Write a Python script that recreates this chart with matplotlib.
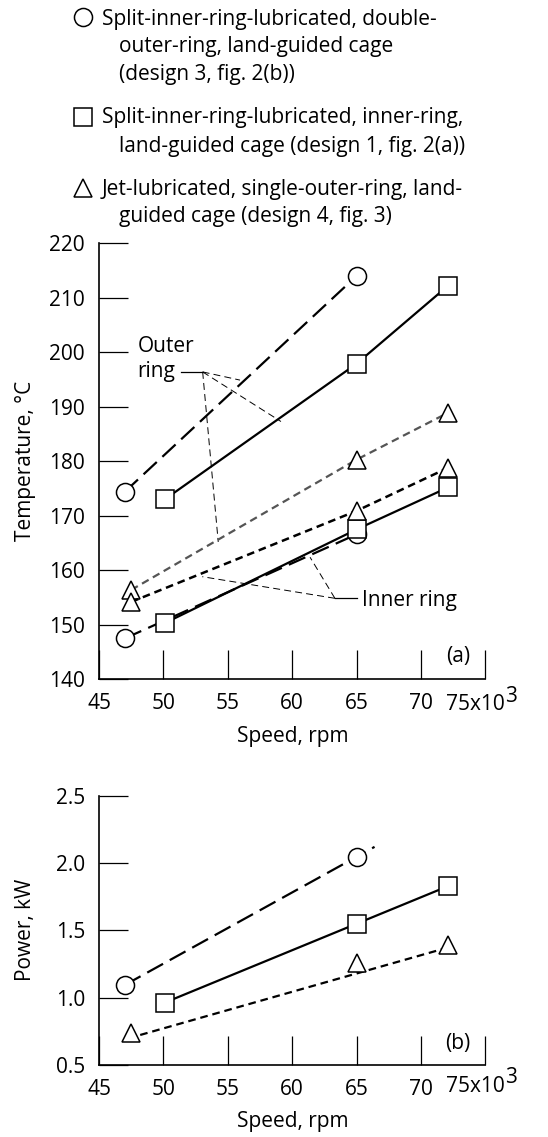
import matplotlib
matplotlib.use('Agg')
import matplotlib.pyplot as plt

plt.rcParams['font.family'] = ['Open Sans', 'DejaVu Sans']
plt.rcParams['lines.scale_dashes'] = False

# ---------------- data ----------------
speed_ticks = [45, 50, 55, 60, 65, 70, 75]
speed_labels = ['45', '50', '55', '60', '65', '70', '']
temp_ticks = [140, 150, 160, 170, 180, 190, 200, 210, 220]
power_ticks = [0.5, 1.0, 1.5, 2.0, 2.5]
power_labels = ['0.5', '1.0', '1.5', '2.0', '2.5']

# (a) temperatures, deg C
circ_speed = [47.0, 65.0]
circ_outer = [174.4, 214.0]
circ_inner = [147.5, 166.6]
sq_speed = [50.1, 65.0, 72.1]
sq_outer = [173.0, 197.9, 212.2]
sq_inner = [150.3, 167.5, 175.2]
tri_speed = [47.5, 65.0, 72.1]
tri_outer = [156.4, 180.3, 188.9]
tri_inner = [154.2, 170.9, 178.8]

# (b) power, kW
circ_power = [1.094, 2.045]
sq_power = [0.963, 1.549, 1.828]
tri_power = [0.741, 1.256, 1.394]
circ_fit_speed = [47.0, 66.4]
circ_fit_power = [1.094, 2.12]
tri_fit_speed = [48.2, 71.9]
tri_fit_power = [0.723, 1.367]

legend_texts = [
    ["Split-inner-ring-lubricated, double-", "outer-ring, land-guided cage", "(design 3, fig. 2(b))"],
    ["Split-inner-ring-lubricated, inner-ring,", "land-guided cage (design 1, fig. 2(a))"],
    ["Jet-lubricated, single-outer-ring, land-", "guided cage (design 4, fig. 3)"],
]

# ---------------- styles ----------------
W, H = 548, 1137
FS = 15
LONG = (0, (13, 5.5))
SHORT = (0, (5.5, 3.5))
mk = dict(markerfacecolor='white', markeredgecolor='black', markeredgewidth=1.1)

fig = plt.figure(figsize=(W / 100, H / 100), dpi=100)

def px_axes(l, r, t, b):
    return [l / W, 1 - b / H, (r - l) / W, (b - t) / H]

axA = fig.add_axes(px_axes(99, 485.3, 243.3, 679.3))
axB = fig.add_axes(px_axes(99, 485.3, 795.7, 1065))

for ax in (axA, axB):
    for s in ('top', 'right'):
        ax.spines[s].set_visible(False)
    for s in ('left', 'bottom'):
        ax.spines[s].set_linewidth(1.2)
    ax.set_xlim(45, 75)
    ax.set_xticks(speed_ticks)
    ax.set_xticklabels(speed_labels)
    ax.tick_params(axis='x', direction='in', length=21, width=0.9, pad=10, labelsize=FS)
    ax.tick_params(axis='y', direction='in', length=21, width=0.9, pad=10, labelsize=FS)

# ---- (a) ----
axA.set_ylim(140, 220)
axA.set_yticks(temp_ticks)
axA.plot(circ_speed, circ_outer, color='black', lw=1.6, linestyle=LONG, marker='o', ms=13, **mk, zorder=3)
axA.plot(circ_speed, circ_inner, color='black', lw=1.6, linestyle=LONG, marker='o', ms=13, **mk, zorder=3)
axA.plot(sq_speed, sq_outer, color='black', lw=1.6, linestyle='-', marker='s', ms=12.5, **mk, zorder=3)
axA.plot(sq_speed, sq_inner, color='black', lw=1.6, linestyle='-', marker='s', ms=12.5, **mk, zorder=3)
axA.plot(tri_speed, tri_outer, color='#555555', lw=1.6, linestyle=SHORT, marker='^', ms=13, **mk, zorder=3)
axA.plot(tri_speed, tri_inner, color='black', lw=1.8, linestyle=SHORT, marker='^', ms=13, **mk, zorder=3)

# leaders
lead = dict(color='black', lw=0.7, linestyle=(0, (5, 3)), zorder=2)
ox, oy = 53.05, 196.4
for tx, ty in [(55.95, 194.9), (59.13, 187.3), (54.26, 165.2)]:
    axA.plot([ox, tx], [oy, ty], **lead)
axA.plot([51.35, ox], [oy, oy], color='black', lw=0.9)
axA.text(48.0, 200.1, 'Outer', fontsize=FS, va='baseline', ha='left')
axA.text(48.0, 195.4, 'ring', fontsize=FS, va='baseline', ha='left')
ix, iy = 63.32, 154.86
for tx, ty in [(53.02, 158.83), (61.39, 162.4)]:
    axA.plot([ix, tx], [iy, ty], **lead)
axA.plot([ix, 65.0], [iy, iy], color='black', lw=0.9)
axA.text(65.39, 153.45, 'Inner ring', fontsize=FS, va='baseline', ha='left')
axA.text(72.88, 144.1, '(a)', fontsize=FS, va='center', ha='center')

# ---- (b) ----
axB.set_ylim(0.5, 2.5)
axB.set_yticks(power_ticks)
axB.set_yticklabels(power_labels)
axB.plot(circ_fit_speed, circ_fit_power, color='black', lw=1.6, linestyle=LONG, zorder=2)
axB.plot(circ_speed, circ_power, linestyle='none', marker='o', ms=13, **mk, zorder=3)
axB.plot(sq_speed, sq_power, color='black', lw=1.6, linestyle='-', marker='s', ms=12.5, **mk, zorder=3)
axB.plot(tri_fit_speed, tri_fit_power, color='black', lw=1.6, linestyle=SHORT, zorder=2)
axB.plot(tri_speed, tri_power, linestyle='none', marker='^', ms=13, **mk, zorder=3)
axB.text(72.88, 0.662, '(b)', fontsize=FS, va='center', ha='center')

# ---- overlay for labels and legend (pixel coordinates) ----
ov = fig.add_axes([0, 0, 1, 1], zorder=-1)
ov.set_xlim(0, W)
ov.set_ylim(H, 0)
ov.axis('off')

ov.text(292.5, 736.7, 'Speed, rpm', fontsize=FS, ha='center', va='center')
ov.text(292.5, 1121.7, 'Speed, rpm', fontsize=FS, ha='center', va='center')
ov.text(26, 461.3, 'Temperature, \u00b0C', fontsize=FS, ha='center', va='center', rotation=90)
ov.text(26, 930.3, 'Power, kW', fontsize=FS, ha='center', va='center', rotation=90)
for base in (710.0, 1091.7):
    ov.text(504.5, base, '75x10', fontsize=FS, ha='right', va='baseline')
    ov.text(505.0, base - 8.3, '3', fontsize=FS, ha='left', va='baseline')

legend_markers = ['o', 's', '^']
legend_marker_y = [17.3, 117.0, 187.5]
legend_baselines = [[25.0, 51.7, 80.0], [123.3, 151.7], [195.0, 221.7]]
for m, my, lines, bases in zip(legend_markers, legend_marker_y, legend_texts, legend_baselines):
    ov.plot([83.3], [my], linestyle='none', marker=m, ms=13, **mk)
    for i, (t, b) in enumerate(zip(lines, bases)):
        ov.text(101.7 if i == 0 else 119.3, b, t, fontsize=FS, ha='left', va='baseline')

fig.savefig('out.png', dpi=100)
